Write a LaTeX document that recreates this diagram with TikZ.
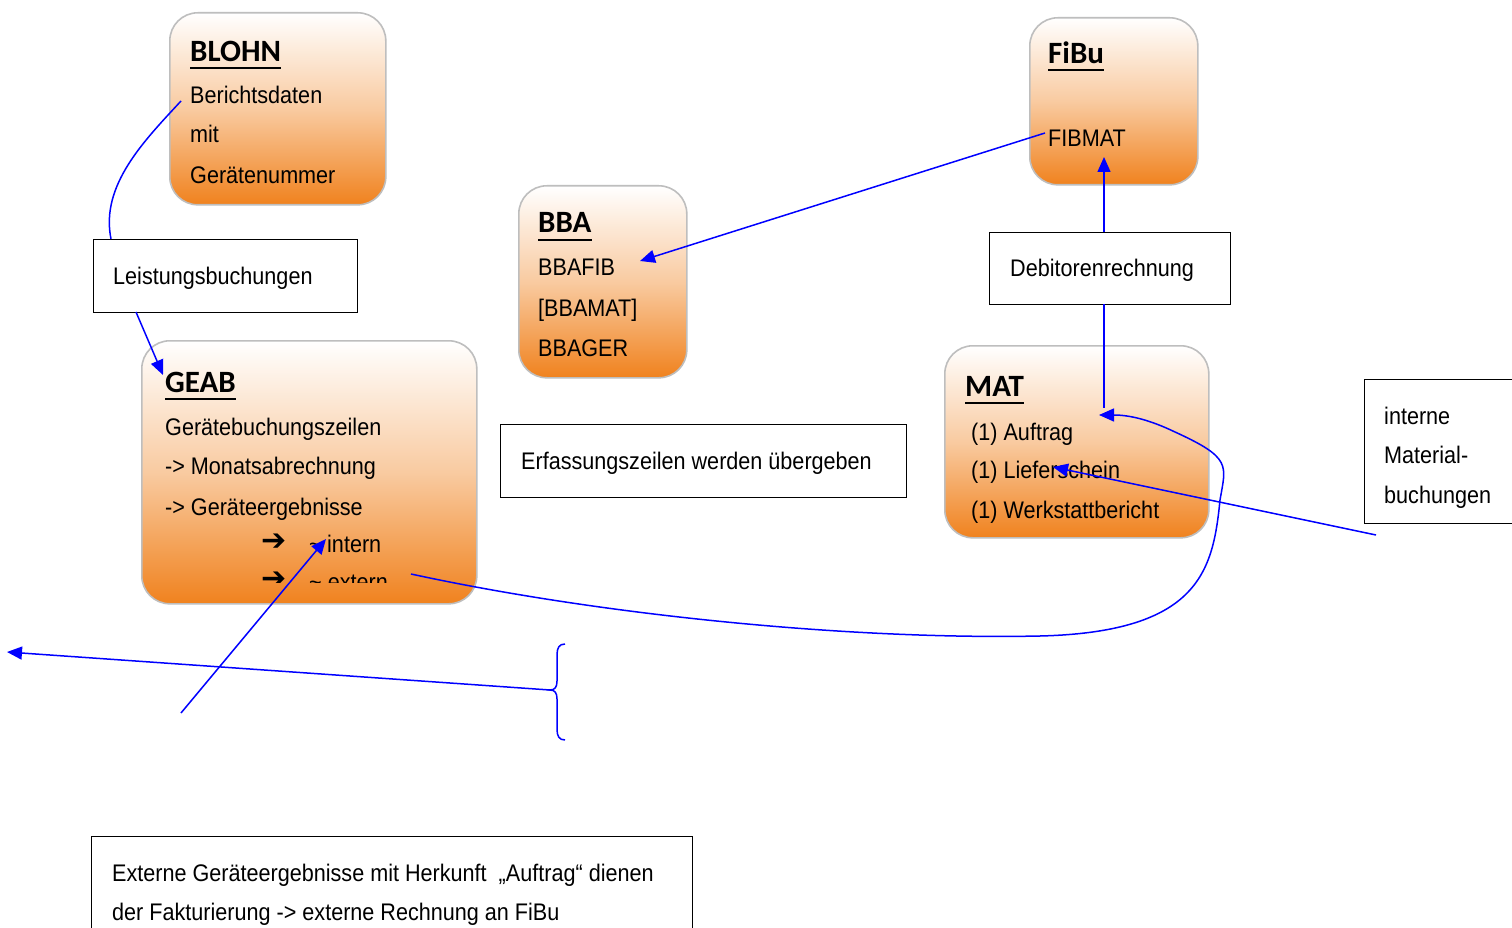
\documentclass[tikz,border=0pt]{standalone}
\usepackage{fontspec}
\setmainfont[FakeStretch=0.9]{Liberation Sans}
\newfontfamily\titlefont{Carlito}
\newfontfamily\symfont{DejaVu Sans}
\usetikzlibrary{arrows.meta}
\definecolor{orng}{RGB}{240,130,30}
\definecolor{bordergray}{RGB}{190,190,190}
\definecolor{lblue}{RGB}{0,0,255}
\tikzset{
  rbox/.style={draw=bordergray, line width=1.6pt, rounded corners=28pt, top color=white, bottom color=orng, middle color=orng!42, anchor=north west, inner sep=0pt},
  sbox/.style={draw=black, line width=1.4pt, anchor=north west, inner sep=0pt},
  txt/.style={anchor=base west, inner sep=0pt, font=\fontsize{24}{28}\selectfont},
  ttl/.style={anchor=base west, inner sep=0pt, font=\titlefont\bfseries\fontsize{31}{34}\selectfont},
  sym/.style={anchor=base west, inner sep=0pt, font=\symfont\bfseries\fontsize{30}{34}\selectfont},
  conn/.style={draw=lblue, line width=1.5pt},
  tip/.style={-{Triangle[length=15pt,width=13pt]}},
}
\newcommand{\ul}[1]{\draw[line width=2pt] ([yshift=-6.5pt]#1.base west) -- ([yshift=-6.5pt]#1.base east);}
\newcommand{\tld}{\char`~}
\begin{document}
\begin{tikzpicture}[x=1pt,y=-1pt]
\useasboundingbox (0,0) rectangle (1512,928);
\fill[white] (0,0) rectangle (1512,928);

% rounded boxes
\node[rbox, minimum width=216pt, minimum height=192pt] (blohn) at (169,12) {};
\node[rbox, minimum width=168pt, minimum height=167pt] (fibu) at (1029,17) {};
\node[rbox, minimum width=168pt, minimum height=192pt] (bba) at (518,185) {};
\node[rbox, minimum width=335pt, minimum height=263pt] (geab) at (141,340) {};
\node[rbox, minimum width=264pt, minimum height=192pt] (mat) at (944,345) {};

% rectangle boxes
\node[sbox, minimum width=264pt, minimum height=73pt] (leist) at (93,239) {};
\node[sbox, minimum width=241pt, minimum height=72pt] (debi) at (989,232) {};
\node[sbox, minimum width=406pt, minimum height=73pt] (erf) at (500,424) {};
\node[sbox, minimum width=160pt, minimum height=144pt] (intmat) at (1364,379) {};
\node[sbox, minimum width=601pt, minimum height=100pt] (ext) at (91,836) {};

% BLOHN
\node[ttl] (blohnt) at (190,62) {BLOHN}; \ul{blohnt}
\node[txt] (blohn1) at (190,104) {Berichtsdaten};
\node[txt] (blohn2) at (190,143) {mit};
\node[txt] (blohn3) at (190,184) {Gerätenummer};

% FiBu
\node[ttl] (fibut) at (1048,64) {FiBu}; \ul{fibut}
\node[txt] (fibmat) at (1048,147) {FIBMAT};

% BBA
\node[ttl] (bbat) at (538,233) {BBA}; \ul{bbat}
\node[txt] (bba1) at (538,275) {BBAFIB};
\node[txt] (bba2) at (538,316) {[BBAMAT]};
\node[txt] (bba3) at (538,356) {BBAGER};

% GEAB
\node[ttl] (geabt) at (165,392) {GEAB}; \ul{geabt}
\node[txt] (geab1) at (165,435) {Gerätebuchungszeilen};
\node[txt] (geab2) at (165,474) {-> Monatsabrechnung};
\node[txt] (geab3) at (165,515) {-> Geräteergebnisse};
\node[sym] (geabar1) at (261,550) {➔};
\node[txt] (geab4) at (309,552) {\tld};
\node[txt] (geab5) at (327,552) {intern};
\begin{scope}
\clip (141,340) rectangle (476,582);
\node[sym] (geabar2) at (261,588) {➔};
\node[txt] (geab6) at (309,590) {\tld\ extern};
\end{scope}

% MAT
\node[ttl] (matt) at (965,396) {MAT}; \ul{matt}
\node[txt] (mat1) at (971,440) {(1) Auftrag};
\node[txt] (mat2) at (971,478) {(1) Lieferschein};
\node[txt] (mat3) at (971,518) {(1) Werkstattbericht};

% rectangle texts
\node[txt] (leistt) at (113,284) {Leistungsbuchungen};
\node[txt] (debit) at (1010,276) {Debitorenrechnung};
\node[txt] (erft) at (521,469) {Erfassungszeilen werden übergeben};
\node[txt] (int1) at (1384,424) {interne};
\node[txt] (int2) at (1384,463) {Material-};
\node[txt] (int3) at (1384,503) {buchungen};
\node[txt] (ext1) at (112,881) {Externe Geräteergebnisse mit Herkunft\ \ „Auftrag“ dienen};
\node[txt] (ext2) at (112,920) {der Fakturierung -> externe Rechnung an FiBu};

% connector coordinates
\coordinate (c1a) at (181,101);
\coordinate (c1b) at (111,239);
\coordinate (c2a) at (136,312);
\coordinate (c2b) at (163,375);
\coordinate (c3a) at (1045,133);
\coordinate (c3b) at (640,261);
\coordinate (c4a) at (1104,232);
\coordinate (c4b) at (1104,157);
\coordinate (c5a) at (1104,304);
\coordinate (c5b) at (1104,408);
\coordinate (c6a) at (411,574);
\coordinate (c6m) at (1040,636);
\coordinate (c6n) at (1220,500);
\coordinate (c6o) at (1175,432);
\coordinate (c6b) at (1099,415);
\coordinate (c7a) at (1376,535);
\coordinate (c7b) at (1053,467);
\coordinate (c8a) at (181,713);
\coordinate (c8b) at (326,539);
\coordinate (brt) at (565,644);
\coordinate (brm) at (550,690);
\coordinate (brb) at (565,740);
\coordinate (c9b) at (7,652);

% connectors
\draw[conn] (c1a) .. controls (145,140) and (100,185) .. (c1b);
\draw[conn,tip] (c2a) -- (c2b);
\draw[conn,tip] (c3a) -- (c3b);
\draw[conn,tip] (c4a) -- (c4b);
\draw[conn] (c5a) -- (c5b);
\draw[conn,tip] (c6a) .. controls (600,615) and (850,640) .. (c6m)
  .. controls (1200,632) and (1213,570) .. (c6n)
  .. controls (1226,465) and (1232,458) .. (c6o)
  .. controls (1150,420) and (1130,415) .. (c6b);
\draw[conn,tip] (c7a) -- (c7b);
\draw[conn,tip] (c8a) -- (c8b);
\draw[conn] (brt) .. controls (559,644) and (557,648) .. (557,655) -- (557,681)
  .. controls (557,687) and (555,690) .. (brm)
  .. controls (555,690) and (557,693) .. (557,699) -- (557,729)
  .. controls (557,736) and (559,740) .. (brb);
\draw[conn,tip] (brm) -- (c9b);
\end{tikzpicture}
\end{document}
